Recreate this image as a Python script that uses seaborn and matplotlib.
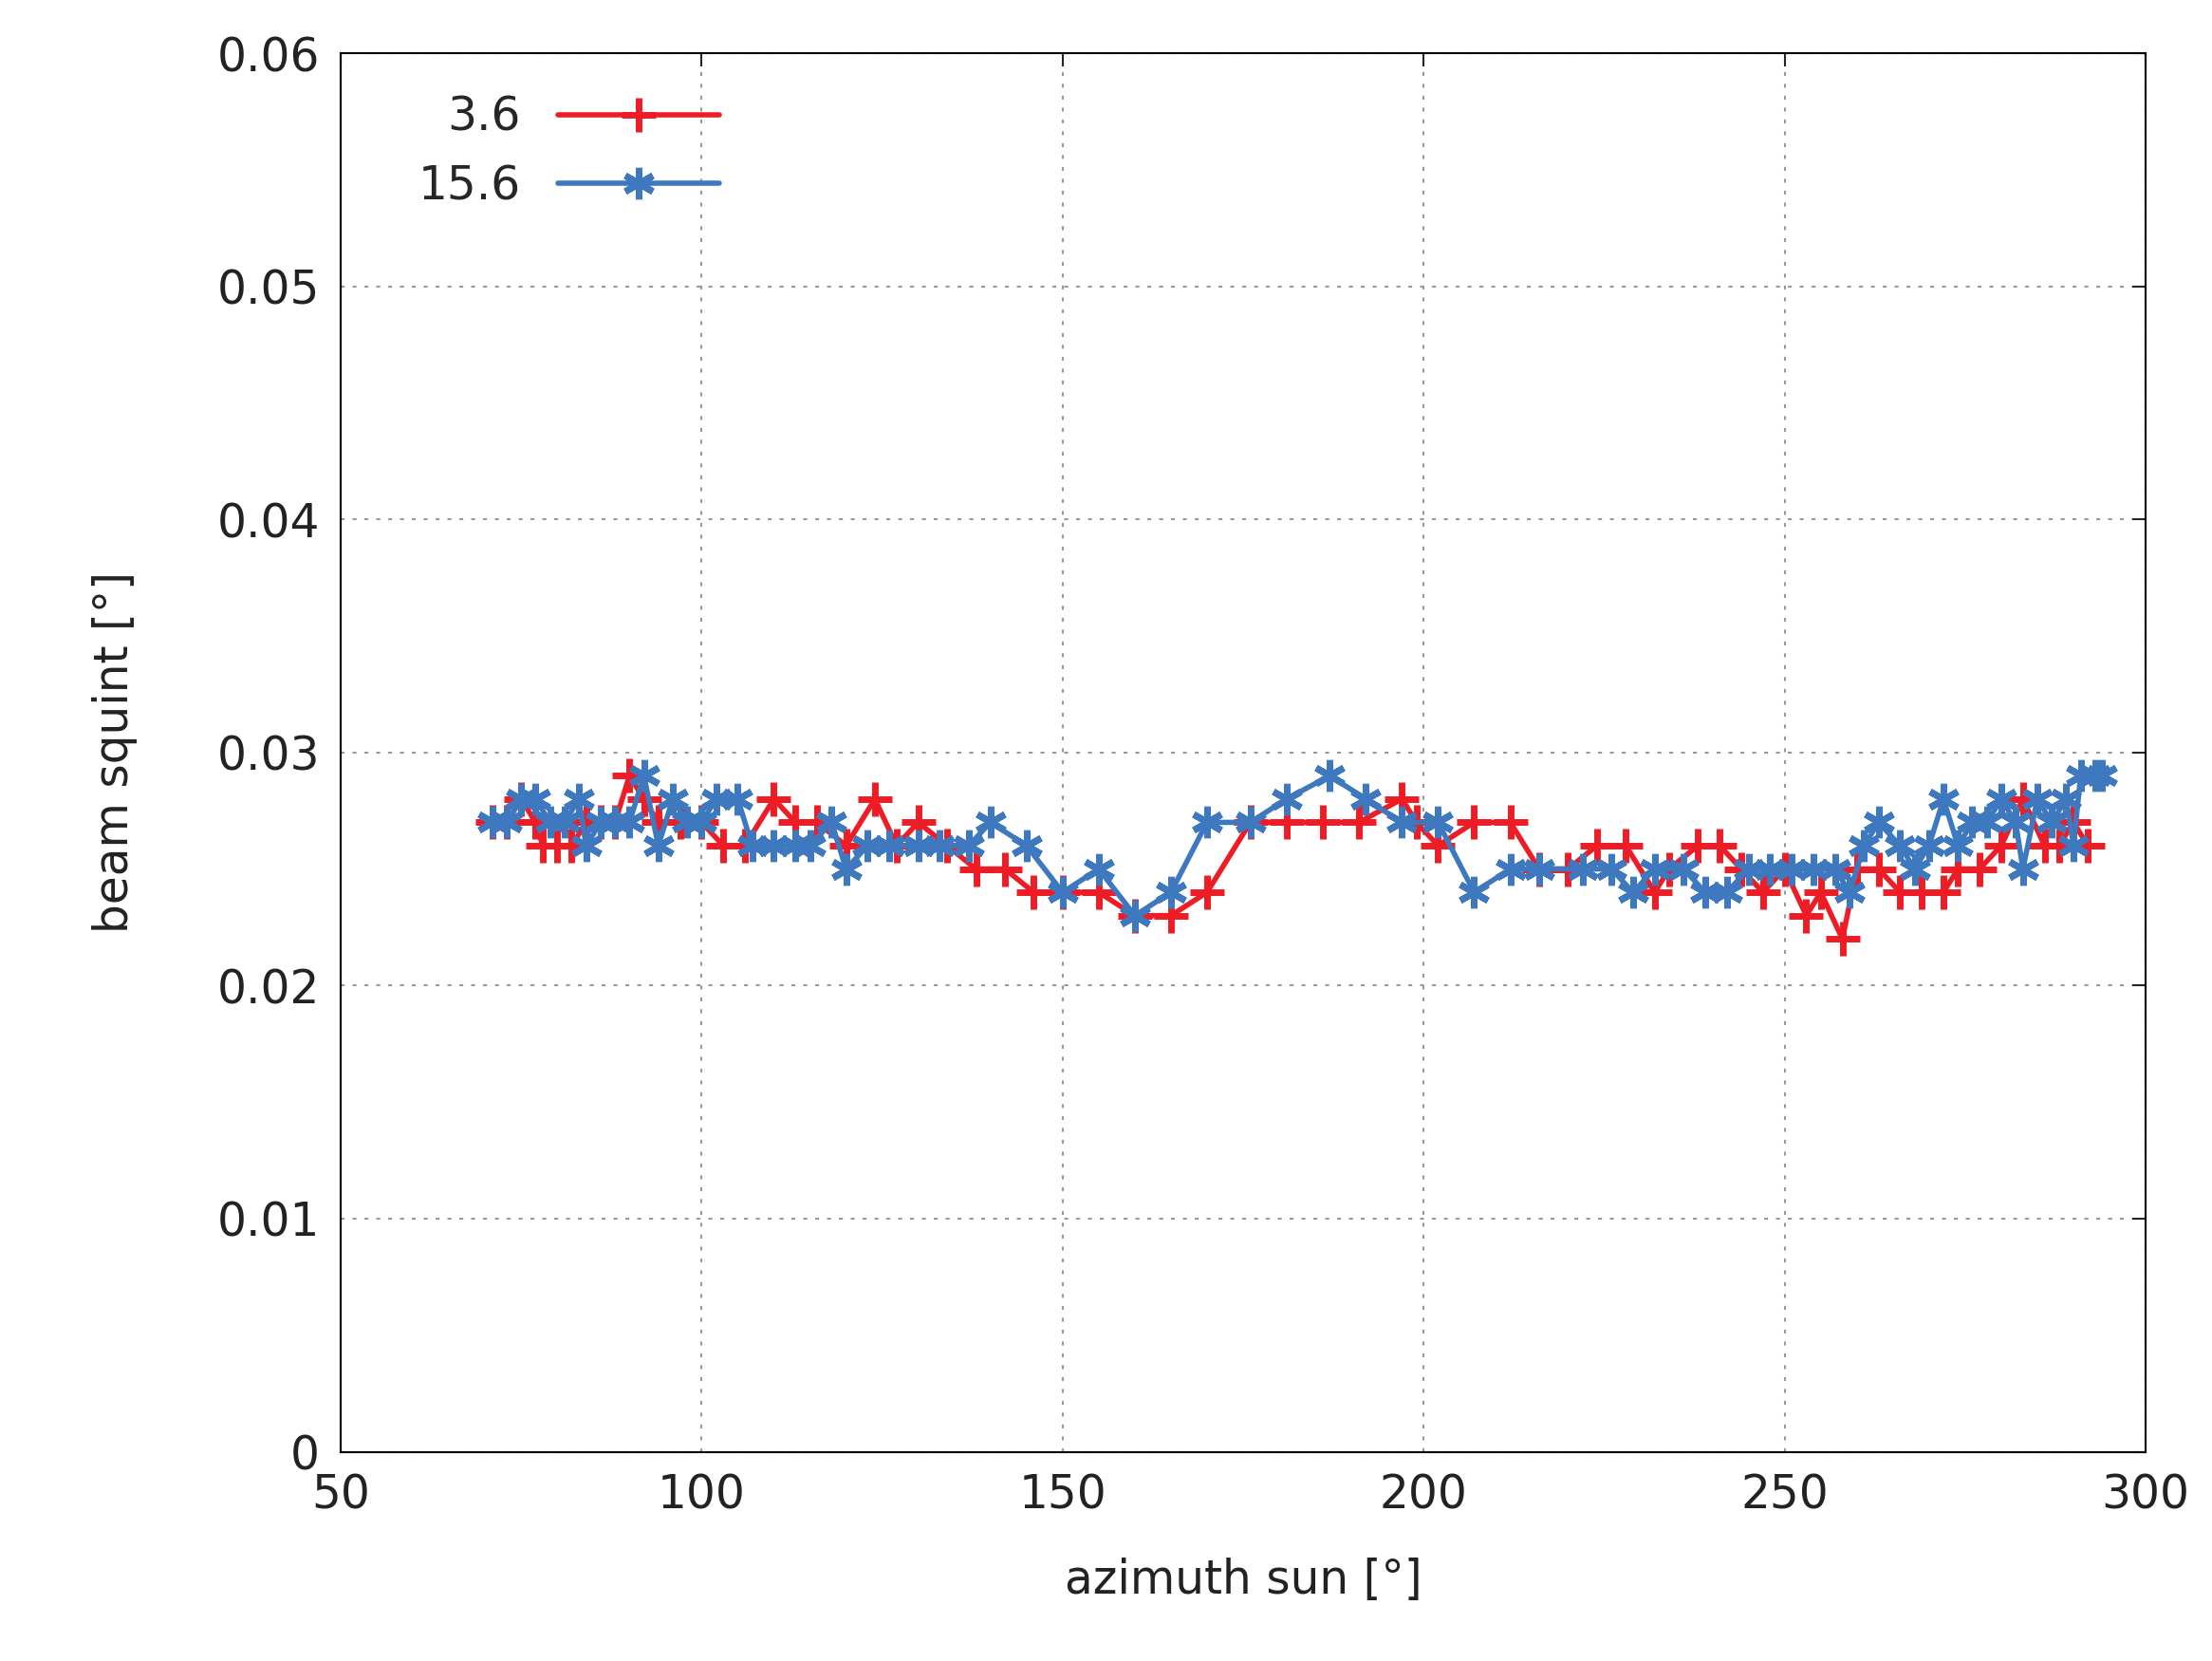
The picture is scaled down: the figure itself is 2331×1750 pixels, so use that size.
import matplotlib
matplotlib.use("Agg")
from matplotlib import pyplot as plt
import pandas as pd
import seaborn as sns

sns.set_theme(style="white")

x_red = [71, 73, 75, 77, 78, 80, 82, 84, 86, 88, 90, 92, 94, 97, 100, 103, 106, 110, 113, 116,
         120, 124, 127, 130, 134, 138, 142, 146, 150, 155, 160, 165, 170, 176, 181, 186, 191, 197,
         199, 202, 207, 212, 216, 220, 224, 228, 232, 234, 238, 241, 244, 247, 250, 253, 255, 258,
         260, 263, 266, 269, 272, 274, 277, 280, 283, 286, 288, 290, 292]
y_red = [.027, .027, .028, .027, .026, .026, .026, .027, .027, .027, .029, .028, .027, .027, .027,
         .026, .026, .028, .027, .027, .026, .028, .026, .027, .026, .025, .025, .024, .024, .024,
         .023, .023, .024, .027, .027, .027, .027, .028, .027, .026, .027, .027, .025, .025, .026,
         .026, .024, .025, .026, .026, .025, .024, .025, .023, .024, .022, .025, .025, .024, .024,
         .024, .025, .025, .026, .028, .026, .026, .027, .026]

x_blue = [71, 73, 75, 77, 79, 81, 83, 84, 86, 88, 90, 92, 94, 96, 98, 100, 102, 105, 107, 110,
          113, 115, 118, 120, 123, 126, 130, 133, 137, 140, 145, 150, 155, 160, 165, 170, 176,
          181, 187, 192, 197, 202, 207, 212, 216, 222, 226, 229, 232, 236, 239, 242, 245, 248,
          251, 254, 257, 259, 261, 263, 266, 268, 270, 272, 274, 276, 278, 280, 282, 283, 285,
          287, 289, 290, 291, 293, 294]
y_blue = [.027, .027, .028, .028, .027, .027, .028, .026, .027, .027, .027, .029, .026, .028, .027,
          .027, .028, .028, .026, .026, .026, .026, .027, .025, .026, .026, .026, .026, .026, .027,
          .026, .024, .025, .023, .024, .027, .027, .028, .029, .028, .027, .027, .024, .025, .025,
          .025, .025, .024, .025, .025, .024, .024, .025, .025, .025, .025, .025, .024, .026, .027,
          .026, .025, .026, .028, .026, .027, .027, .028, .027, .025, .028, .027, .028, .026, .029,
          .029, .029]

x_ticks = [50, 100, 150, 200, 250, 300]
y_ticks = [0, 0.01, 0.02, 0.03, 0.04, 0.05, 0.06]
y_tick_labels = ["0", "0.01", "0.02", "0.03", "0.04", "0.05", "0.06"]

red = pd.DataFrame({"az": x_red, "sq": y_red})
blue = pd.DataFrame({"az": x_blue, "sq": y_blue})

RED = "#ee1c25"
BLUE = "#3e78bf"

fig = plt.figure(figsize=(23.31, 17.5), dpi=100)
ax = fig.add_axes([0.154, 0.126, 0.816, 0.842])

sns.lineplot(data=red, x="az", y="sq", ax=ax, color=RED, linewidth=4,
             marker="+", markersize=26, markeredgewidth=5, markeredgecolor=RED, label="3.6")
sns.lineplot(data=blue, x="az", y="sq", ax=ax, color=BLUE, linewidth=4,
             marker=(6, 2, 0), markersize=24, markeredgewidth=5, markeredgecolor=BLUE,
             label="15.6")

ax.set_xlim(50, 300)
ax.set_ylim(0, 0.06)
ax.set_xticks(x_ticks)
ax.set_yticks(y_ticks)
ax.set_yticklabels(y_tick_labels)
ax.tick_params(labelsize=35, length=10, width=1.5, direction="in", top=True, right=True,
               pad=16, labelcolor="#222222")
ax.grid(True, color="#999999", linestyle=(0, (2, 4)), linewidth=1.5)
for s in ax.spines.values():
    s.set_color("black")
    s.set_linewidth(1.5)
ax.set_xlabel("azimuth sun [°]", fontsize=35, labelpad=30, color="#222222")
ax.set_ylabel("beam squint [°]", fontsize=35, labelpad=60, color="#222222")

leg = ax.legend(loc="upper left", frameon=False, fontsize=35, markerfirst=False,
                handlelength=3.5, bbox_to_anchor=(0.02, 1.0), labelspacing=0.5)

fig.savefig("out.png", dpi=100)
